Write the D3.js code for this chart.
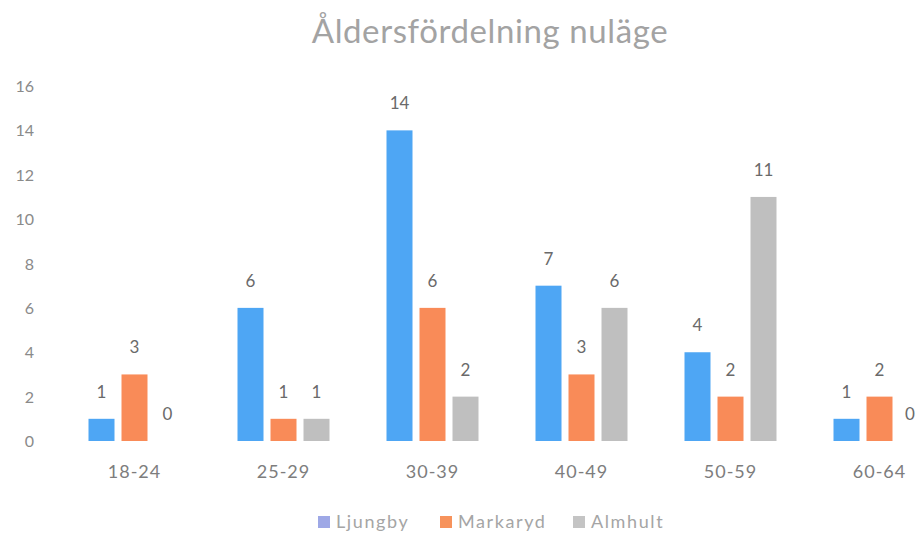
<!DOCTYPE html>
<html lang="sv">
<head>
<meta charset="utf-8">
<title>Åldersfördelning nuläge</title>
<script src="https://d3js.org/d3.v7.min.js"></script>
<style>
  body { margin: 0; background: #fff; }
  svg text { font-family: Lato, "Open Sans", sans-serif; }
</style>
</head>
<body>
<div id="chart"></div>
<script>
var categories = ["18-24", "25-29", "30-39", "40-49", "50-59", "60-64"];
var seriesNames = ["Ljungby", "Markaryd", "Almhult"];
var ljungby = [1, 6, 14, 7, 4, 1];
var markaryd = [3, 1, 6, 3, 2, 2];
var almhult = [0, 1, 2, 6, 11, 0];
var yTicks = [0, 2, 4, 6, 8, 10, 12, 14, 16];

var barColors = ["#4ea6f4", "#f98b58", "#bfbfbf"];
var legendColors = ["#9ea8e6", "#f7935c", "#c4c4c4"];

var width = 919, height = 533;
var series = [ljungby, markaryd, almhult];

var svg = d3.select("#chart").append("svg")
    .attr("width", width)
    .attr("height", height);

// x: band per age group, the last group runs past the right edge like the original
var x = d3.scaleBand()
    .domain(categories)
    .range([60, 954]);

var y = d3.scaleLinear()
    .domain([0, 16])
    .range([441, 86]);

var barW = 26, step = 33;

svg.append("text")
    .attr("x", 490)
    .attr("y", 43)
    .attr("text-anchor", "middle")
    .attr("font-size", 33)
    .attr("letter-spacing", 0.6)
    .attr("fill", "#a3a3a3")
    .text("Åldersfördelning nuläge");

// y axis labels (no axis line)
svg.append("g").selectAll("text")
    .data(yTicks)
    .enter().append("text")
    .attr("x", 34)
    .attr("y", function(d) { return y(d) + 6; })
    .attr("text-anchor", "end")
    .attr("font-size", 16)
    .attr("fill", "#8a8a8a")
    .text(function(d) { return d; });

// category labels
svg.append("g").selectAll("text")
    .data(categories)
    .enter().append("text")
    .attr("x", function(d) { return x(d) + x.bandwidth() / 2; })
    .attr("y", 478)
    .attr("text-anchor", "middle")
    .attr("font-size", 18)
    .attr("letter-spacing", 1)
    .attr("fill", "#7d7d7d")
    .text(function(d) { return d; });

series.forEach(function(vals, si) {
  var g = svg.append("g");
  var cx = function(i) { return x(categories[i]) + x.bandwidth() / 2 + (si - 1) * step; };

  g.selectAll("rect")
    .data(vals)
    .enter().append("rect")
    .attr("x", function(d, i) { return cx(i) - barW / 2; })
    .attr("y", function(d) { return y(d); })
    .attr("width", barW)
    .attr("height", function(d) { return y(0) - y(d); })
    .attr("fill", barColors[si]);

  g.selectAll("text")
    .data(vals)
    .enter().append("text")
    .attr("x", function(d, i) { return Math.min(cx(i), 910); })
    .attr("y", function(d) { return y(d) - 21; })
    .attr("text-anchor", "middle")
    .attr("font-size", 17)
    .attr("fill", "#6a6a6a")
    .text(function(d) { return d; });
});

// legend
var legendX = [318, 440, 573];
var leg = svg.append("g");
seriesNames.forEach(function(name, i) {
  leg.append("rect")
    .attr("x", legendX[i])
    .attr("y", 516)
    .attr("width", 12)
    .attr("height", 12)
    .attr("fill", legendColors[i]);
  leg.append("text")
    .attr("x", legendX[i] + 18)
    .attr("y", 528)
    .attr("font-size", 18)
    .attr("letter-spacing", 1.6)
    .attr("fill", "#a5a5a5")
    .text(name);
});
</script>
</body>
</html>
